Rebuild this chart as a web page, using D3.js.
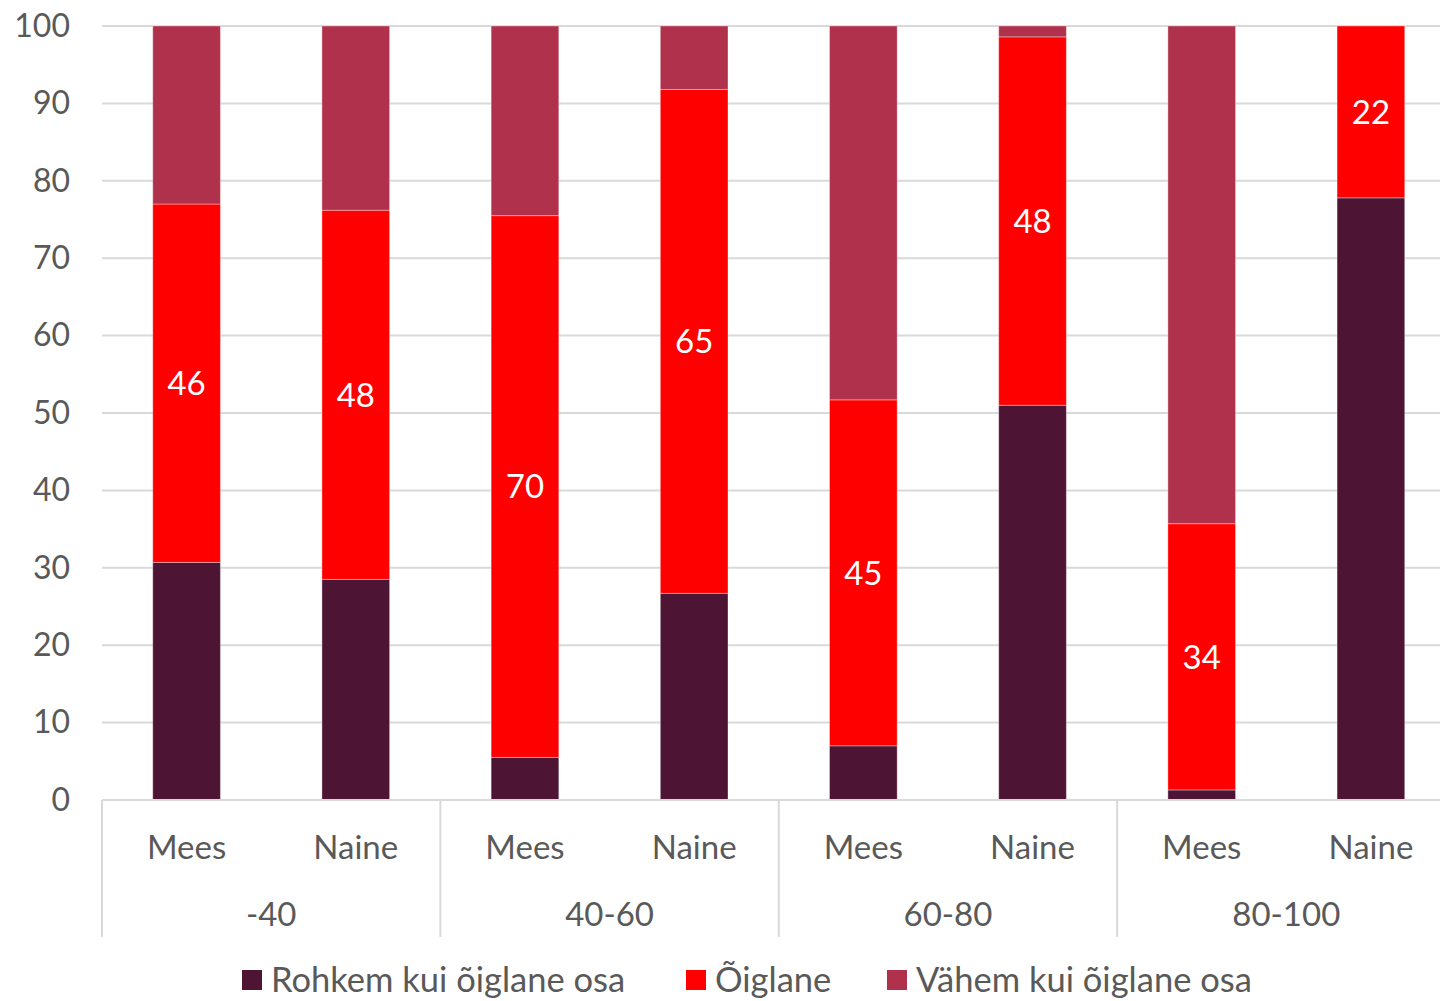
<!DOCTYPE html>
<html><head><meta charset="utf-8">
<script src="https://cdn.jsdelivr.net/npm/d3@7"></script>
<style>html,body{margin:0;padding:0;background:#fff;}svg{display:block;font-family:Lato,"Open Sans",sans-serif;}</style>
</head><body>
<svg id="chart" width="1440" height="1001"></svg>
<script>
const groups = ["-40","40-60","60-80","80-100"];
const genders = ["Mees","Naine"];
const seriesNames = ["Rohkem kui õiglane osa","Õiglane","Vähem kui õiglane osa"];
const seriesColors = ["#4E1434","#FF0000","#B0314B"];
// per bar: group, gender
const barGroup  = ["-40","-40","40-60","40-60","60-80","60-80","80-100","80-100"];
const barGender = ["Mees","Naine","Mees","Naine","Mees","Naine","Mees","Naine"];
const rohkem = [30.7, 28.5, 5.5, 26.7, 7.0, 51.0, 1.3, 77.8];
const oiglane = [46.3, 47.7, 70.0, 65.1, 44.7, 47.6, 34.4, 22.2];
const vahem = barGroup.map((g,i)=>+(100 - rohkem[i] - oiglane[i]).toFixed(1));
const yTicks = [0,10,20,30,40,50,60,70,80,90,100];

const svg = d3.select("#chart");
const mLeft = 102, mRight = 1455.5, mTop = 26, mBottom = 800;
const textColor = "#595959", gridColor = "#D9D9D9";

const x = d3.scaleBand().domain(d3.range(8)).range([mLeft,mRight]).paddingInner(0.6).paddingOuter(0.3);
const y = d3.scaleLinear().domain([0,100]).range([mBottom,mTop]);

// gridlines
svg.append("g").selectAll("line").data(yTicks.filter(t=>t>0)).join("line")
  .attr("x1",mLeft).attr("x2",1440).attr("y1",d=>y(d)).attr("y2",d=>y(d))
  .attr("stroke",gridColor).attr("stroke-width",2);

// y axis labels
const yAxis = d3.axisLeft(y).tickValues(yTicks).tickSize(0).tickPadding(0);
const ya = svg.append("g").attr("transform",`translate(70,0)`).call(yAxis);
ya.select(".domain").remove();
ya.selectAll("text").attr("fill",textColor).attr("font-size",32).attr("font-family","Lato, sans-serif");

// stacks
const rows = barGroup.map((g,i)=>({i, r:rohkem[i], o:oiglane[i], v:vahem[i]}));
const stack = d3.stack().keys(["r","o","v"])(rows);
const gBars = svg.append("g");
stack.forEach((layer,k)=>{
  gBars.append("g").selectAll("rect").data(layer).join("rect")
    .attr("x",d=>x(d.data.i)).attr("width",x.bandwidth())
    .attr("y",d=>y(d[1])).attr("height",d=>y(d[0])-y(d[1]))
    .attr("fill",seriesColors[k])
    .attr("stroke","rgba(255,255,255,0.35)").attr("stroke-width",1);
});
// data labels for Õiglane
svg.append("g").selectAll("text").data(stack[1]).join("text")
  .attr("x",d=>x(d.data.i)+x.bandwidth()/2)
  .attr("y",d=>y((d[0]+d[1])/2))
  .attr("dy","0.36em").attr("text-anchor","middle")
  .attr("fill","#fff").attr("font-size",33)
  .text(d=>Math.round(d.data.o));

// x axis line
svg.append("line").attr("x1",mLeft).attr("x2",1440).attr("y1",mBottom).attr("y2",mBottom)
  .attr("stroke",gridColor).attr("stroke-width",2);

// x axis: gender labels
const xAxis = d3.axisBottom(x).tickSize(0).tickPadding(0).tickFormat(i=>barGender[i]);
const xa = svg.append("g").attr("transform",`translate(0,${mBottom+36})`).call(xAxis);
xa.select(".domain").remove();
xa.selectAll("text").attr("fill",textColor).attr("font-size",33).attr("font-family","Lato, sans-serif");

// group separators and group labels
const step = x.step();
const gStart = g => mLeft + groups.indexOf(g)*2*step;
svg.append("g").selectAll("line").data(groups).join("line")
  .attr("x1",d=>gStart(d)).attr("x2",d=>gStart(d)).attr("y1",mBottom).attr("y2",937)
  .attr("stroke",gridColor).attr("stroke-width",2);
svg.append("g").selectAll("text").data(groups).join("text")
  .attr("x",d=>(x(barGroup.indexOf(d))+x(barGroup.lastIndexOf(d))+x.bandwidth())/2)
  .attr("y",914).attr("dy","0.36em").attr("text-anchor","middle")
  .attr("fill",textColor).attr("font-size",33).text(d=>d);

// legend
const legendX = [242, 686, 887];
const lg = svg.append("g").selectAll("g").data(seriesNames).join("g")
  .attr("transform",(d,i)=>`translate(${legendX[i]},980)`);
lg.append("rect").attr("x",0).attr("y",-10).attr("width",20).attr("height",20)
  .attr("fill",(d,i)=>seriesColors[i]);
lg.append("text").attr("x",29).attr("dy","0.36em").attr("fill",textColor)
  .attr("font-size",34.5).text(d=>d);
</script>
</body></html>
